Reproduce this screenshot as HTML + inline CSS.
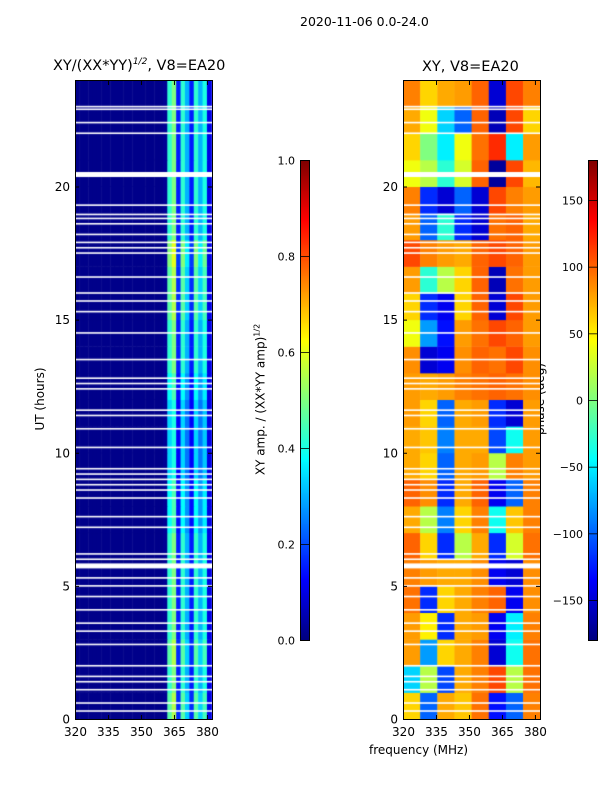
<!DOCTYPE html>
<html><head><meta charset="utf-8">
<style>
body{margin:0;background:#fff;font-family:"DejaVu Sans","Liberation Sans",sans-serif;}
#wrap{position:relative;width:600px;height:800px;overflow:hidden;}
.t{position:absolute;color:#000;white-space:nowrap;}
canvas{position:absolute;}
</style></head>
<body>
<div id="wrap">
<div class="t" style="left:300px;top:14px;font-size:12.5px;">2020-11-06 0.0-24.0</div>
<div class="t" style="left:53px;top:57px;font-size:14.5px;">XY/(XX*YY)<sup style="font-size:9px;font-style:italic">1/2</sup>, V8=EA20</div>
<div class="t" style="left:422px;top:59px;font-size:14.5px;">XY, V8=EA20</div>
<div class="t" style="left:369px;top:743px;font-size:12px;">frequency (MHz)</div>
<div class="t" style="left:0px;top:392px;width:80px;text-align:center;font-size:12px;transform:rotate(-90deg);">UT (hours)</div>
<div class="t" style="left:160px;top:392px;width:200px;text-align:center;font-size:12px;transform:rotate(-90deg);">XY amp. / (XX*YY amp)<sup style="font-size:8px">1/2</sup></div>
<div class="t" style="left:490px;top:392px;width:100px;text-align:center;font-size:12px;transform:rotate(-90deg);">phase (deg)</div>
<canvas id="amp" width="137" height="639" style="left:75px;top:80px;"></canvas>
<canvas id="ph" width="137" height="639" style="left:403px;top:80px;"></canvas>
<canvas id="cb1" width="10" height="480" style="left:300px;top:160px;"></canvas>
<canvas id="cb2" width="10" height="480" style="left:588px;top:160px;"></canvas>
<svg id="ax" width="600" height="800" style="position:absolute;left:0;top:0;"></svg>
</div>
<script>
// ---- data ----
const ampChannelFreqs=[320,322,324,326,328,330,332,334,336,338,340,342,344,346,348,350,352,354,356,358,360,362,364,366,368,370,372,374,376,378,380];
const ampChannelValues=[0.01,0.01,0.01,0.01,0.01,0.01,0.01,0.01,0.01,0.01,0.01,0.01,0.01,0.01,0.01,0.01,0.01,0.01,0.01,0.01,0.02,0.42,0.5,0.15,0.42,0.3,0.15,0.42,0.3,0.4,0.1];
const ampHourFactor=[1.1,1.0,1.1,1.0,1.0,1.0,1.0,0.9,0.9,0.8,0.8,0.8,0.9,1.0,1.0,1.1,1.1,1.2,1.0,1.0,1.0,1.0,1.0,1.0];
const phaseFreqBins=[320,327.8,335.6,343.4,351.2,359,366.8,374.6];
const phaseGrid=[ // rows: hour 0..23
[60,-100,75,65,95,-130,-100,90],
[-60,20,-110,75,90,110,20,95],
[80,-80,60,75,90,-150,-40,95],
[80,50,-120,75,80,-140,-50,90],
[95,-120,60,75,90,100,-140,85],
[90,80,75,75,85,-140,-150,85],
[100,60,-120,20,75,-120,30,95],
[75,20,-90,60,90,-40,65,90],
[100,85,-120,75,100,-140,-100,90],
[75,60,-100,75,80,20,90,80],
[75,65,-90,75,75,-110,-40,80],
[80,60,-100,75,80,-120,-150,80],
[80,75,80,90,95,100,95,85],
[85,-150,-140,85,100,95,110,85],
[40,-80,-130,80,95,110,100,80],
[60,-120,-140,60,100,-150,110,80],
[80,-30,20,60,100,-160,95,80],
[110,90,80,75,100,110,100,80],
[80,-100,-30,-120,-150,95,100,75],
[90,-120,-150,-100,-150,110,90,80],
[40,20,-30,30,100,-170,110,70],
[60,0,-50,40,95,120,-50,80],
[75,40,-60,-100,100,-160,110,60],
[90,60,75,80,100,-150,110,90]];
const gapHours=[23.0,22.9,22.4,22.0,19.3,18.95,18.8,18.6,18.2,17.9,17.7,17.5,16.6,16.0,15.7,15.3,14.5,13.5,12.8,12.6,12.4,11.6,11.4,10.9,10.2,9.4,9.2,9.0,8.8,8.6,8.3,7.6,7.2,6.2,6.0,5.3,5.0,4.6,4.1,3.6,3.3,2.8,2.0,1.6,1.4,1.1,0.6,0.3];
const thickGapHours=[20.45,5.75];
const xTicks=[320,335,350,365,380];
const yTicks=[0,5,10,15,20];
const ampTicks=[0.0,0.2,0.4,0.6,0.8,1.0];
const phaseTicks=[-150,-100,-50,0,50,100,150];

// ---- helpers ----
function jet(v){v=Math.max(0,Math.min(1,v));
 const r=Math.min(4*v-1.5,-4*v+4.5),g=Math.min(4*v-0.5,-4*v+3.5),b=Math.min(4*v+0.5,-4*v+2.5);
 const c=x=>Math.round(255*Math.max(0,Math.min(1,x)));return `rgb(${c(r)},${c(g)},${c(b)})`;}
const W=137,H=639,F0=320,F1=382.3,T0=0,T1=24;
const xs=f=>(f-F0)/(F1-F0)*W, ys=h=>H-(h-T0)/(T1-T0)*H;

(function(){const ctx=document.getElementById('amp').getContext('2d');
 for(let h=0;h<24;h++)for(let i=0;i<ampChannelFreqs.length;i++){
  const f=ampChannelFreqs[i],v=ampChannelValues[i]*(ampChannelValues[i]>0.1?ampHourFactor[h]:1);
  ctx.fillStyle=jet(v);const x0=xs(f),x1=xs(f+2),y0=ys(h+1),y1=ys(h);
  ctx.fillRect(x0,y0,x1-x0+0.5,y1-y0+0.5);}
 gaps(ctx);})();
(function(){const ctx=document.getElementById('ph').getContext('2d');
 for(let h=0;h<24;h++)for(let i=0;i<phaseFreqBins.length;i++){
  const f=phaseFreqBins[i],f2=i+1<phaseFreqBins.length?phaseFreqBins[i+1]:F1;
  ctx.fillStyle=jet((phaseGrid[h][i]+180)/360);const x0=xs(f),x1=xs(f2),y0=ys(h+1),y1=ys(h);
  ctx.fillRect(x0,y0,x1-x0+0.5,y1-y0+0.5);}
 gaps(ctx);})();
function gaps(ctx){ctx.fillStyle='#fff';
 gapHours.forEach(g=>ctx.fillRect(0,ys(g)-0.8,W,1.6));
 thickGapHours.forEach(g=>ctx.fillRect(0,ys(g)-2.5,W,5));}
['cb1','cb2'].forEach(id=>{const ctx=document.getElementById(id).getContext('2d');
 for(let y=0;y<480;y++){ctx.fillStyle=jet(1-y/479);ctx.fillRect(0,y,10,1);}});

const svg=document.getElementById('ax'),NS='http://www.w3.org/2000/svg';
function el(tag,a,txt){const e=document.createElementNS(NS,tag);for(const k in a)e.setAttribute(k,a[k]);if(txt!==undefined)e.textContent=txt;svg.appendChild(e);return e;}
const FF='DejaVu Sans, Liberation Sans, sans-serif';
[[75,'amp'],[403,'phase']].forEach(([L,nm])=>{
 const f=el('rect',{x:L+0.5,y:80.5,width:W,height:H,fill:'none',stroke:'#000','stroke-width':1});
 
 xTicks.forEach(v=>{const x=L+0.5+xs(v);
  el('line',{x1:x,x2:x,y1:719,y2:715,stroke:'#000'});el('line',{x1:x,x2:x,y1:81,y2:85,stroke:'#000'});
  const t=el('text',{x:x,y:736,'font-size':12,'text-anchor':'middle','font-family':FF},String(v));
  });
 yTicks.forEach(v=>{const y=80.5+ys(v);
  el('line',{x1:L,x2:L+4,y1:y,y2:y,stroke:'#000'});el('line',{x1:L+W,x2:L+W-4,y1:y,y2:y,stroke:'#000'});
  const t=el('text',{x:L-5,y:y+4,'font-size':12,'text-anchor':'end','font-family':FF},String(v));
  });
});
function cbAxis(L,ticks,lo,hi,fmt){el('rect',{x:L+0.5,y:160.5,width:9,height:480,fill:'none',stroke:'#000'});
 ticks.forEach(v=>{const y=160.5+(hi-v)/(hi-lo)*480;
  el('line',{x1:L,x2:L+10,y1:y,y2:y,stroke:'#000','stroke-width':0.8});
  const t=el('text',{x:L-5,y:y+4,'font-size':11,'text-anchor':'end','font-family':FF},fmt(v));
  });}
cbAxis(300,ampTicks,0,1,v=>v.toFixed(1));
cbAxis(588,phaseTicks,-180,180,v=>v<0?'\u2212'+(-v):String(v));
</script>
</body></html>
